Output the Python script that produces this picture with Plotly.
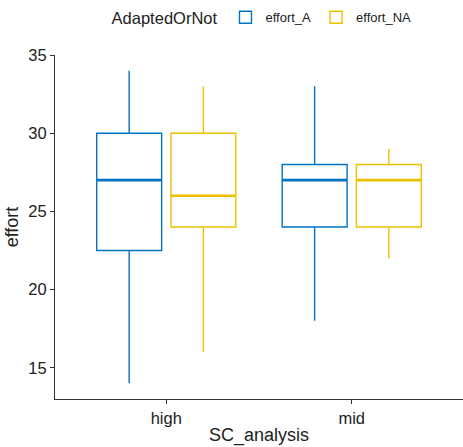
import plotly.graph_objects as go

# Box summary statistics of effort by SC_analysis and AdaptedOrNot
categories = ["high", "mid"]
groups = ["effort_A", "effort_NA"]
colors = ["#0073C2", "#EFC000"]

lower = {"effort_A": [14, 18], "effort_NA": [16, 22]}
q1 = {"effort_A": [22.5, 24], "effort_NA": [24, 24]}
median = {"effort_A": [27, 27], "effort_NA": [26, 27]}
q3 = {"effort_A": [30, 28], "effort_NA": [30, 28]}
upper = {"effort_A": [34, 33], "effort_NA": [33, 29]}

y_ticks = [15, 20, 25, 30, 35]

font_family = "Liberation Sans, Arial, sans-serif"
text_color = "#222222"

fig = go.Figure()
for g, c in zip(groups, colors):
    fig.add_trace(go.Box(
        name=g,
        x=categories,
        q1=q1[g],
        median=median[g],
        q3=q3[g],
        lowerfence=lower[g],
        upperfence=upper[g],
        offsetgroup=g,
        line=dict(color=c, width=1.4),
        fillcolor="rgba(255,255,255,0)",
        whiskerwidth=0,
        boxpoints=False,
        hoverinfo="skip",
    ))

# Heavier median bar drawn on top of each box
for g, c in zip(groups, colors):
    fig.add_trace(go.Box(
        name=g,
        x=categories,
        q1=median[g],
        median=median[g],
        q3=median[g],
        lowerfence=median[g],
        upperfence=median[g],
        offsetgroup=g,
        line=dict(color=c, width=2.6),
        fillcolor="rgba(255,255,255,0)",
        whiskerwidth=0,
        boxpoints=False,
        showlegend=False,
        hoverinfo="skip",
    ))

fig.update_layout(
    width=463,
    height=447,
    margin=dict(l=55, r=0, t=55, b=48),
    paper_bgcolor="white",
    plot_bgcolor="white",
    boxmode="group",
    boxgap=0.2,
    boxgroupgap=0.125,
    font=dict(family=font_family, color=text_color, size=16),
    legend=dict(
        orientation="h",
        x=0.51, xanchor="center",
        y=0.995, yref="container", yanchor="top",
        title=dict(text="AdaptedOrNot", font=dict(size=16.5, color=text_color), side="left"),
        font=dict(size=13, color=text_color),
        itemwidth=30,
        traceorder="normal",
    ),
    xaxis=dict(
        type="category",
        categoryorder="array",
        categoryarray=categories,
        range=[-0.6, 1.6],
        showline=True, linecolor="#333333", linewidth=1.2,
        ticks="outside", ticklen=4, tickcolor="#333333",
        showgrid=False, zeroline=False,
        tickfont=dict(size=16.5, color=text_color),
        title=dict(text="SC_analysis", font=dict(size=18, color=text_color), standoff=2),
    ),
    yaxis=dict(
        range=[13, 35],
        tickvals=y_ticks,
        showline=True, linecolor="#333333", linewidth=1.2,
        ticks="outside", ticklen=4, tickcolor="#333333",
        showgrid=False, zeroline=False,
        tickfont=dict(size=16.5, color=text_color),
        title=dict(text="effort", font=dict(size=18, color=text_color), standoff=4),
    ),
)

fig.write_html("out.html")
